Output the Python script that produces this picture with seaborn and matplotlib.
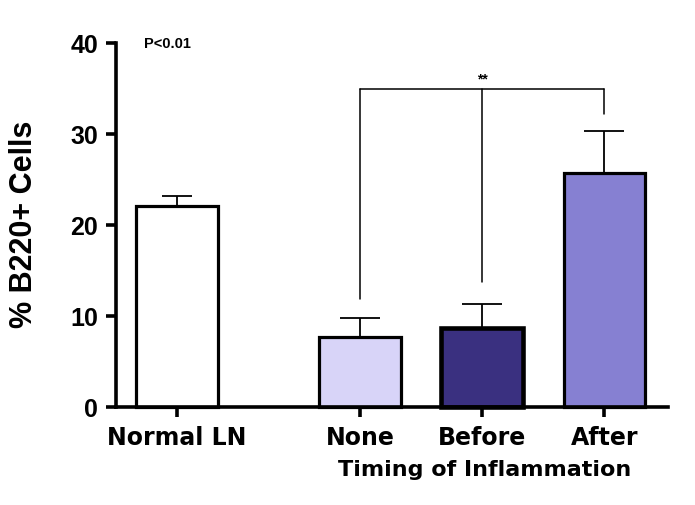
import matplotlib
matplotlib.use("Agg")
import matplotlib.pyplot as plt
import seaborn as sns
import pandas as pd

# ---- data ----
groups = ["Normal LN", "None", "Before", "After"]
positions = [0.0, 1.5, 2.5, 3.5]
means = [22.1, 7.7, 8.7, 25.7]
sems = [1.1, 2.1, 2.6, 4.6]
bar_colors = ["#ffffff", "#d8d4f8", "#3a3080", "#8680d2"]
yticks = [0, 10, 20, 30, 40]
bracket_top = 35.0
bracket_legs = [11.9, 13.7, 32.2]   # bottoms of legs above None, Before, After
sig_label = "**"
p_label = "P<0.01"

df = pd.DataFrame({"group": groups, "pos": positions, "mean": means})

sns.set_style("white")
plt.rcParams["font.family"] = ["Liberation Sans", "DejaVu Sans"]
plt.rcParams["text.color"] = "black"
plt.rcParams["axes.labelcolor"] = "black"
plt.rcParams["xtick.color"] = "black"
plt.rcParams["ytick.color"] = "black"

fig = plt.figure(figsize=(6.95, 5.06), dpi=100)
ax = fig.add_axes([116 / 695, 98 / 506, 552 / 695, 364 / 506])

sns.barplot(data=df, x="pos", y="mean", hue="group", native_scale=True,
            palette=dict(zip(groups, bar_colors)), dodge=False, width=0.67,
            saturation=1, edgecolor="black", linewidth=2.3, legend=False,
            errorbar=None, ax=ax)

for patch in ax.patches:
    patch.set_clip_on(False)
    if abs(patch.get_x() + patch.get_width() / 2 - positions[2]) < 0.1:
        patch.set_linewidth(3.3)

caps = [11, 14.5, 14.5, 14.5]
for p, m, s, c in zip(positions, means, sems, caps):
    ax.errorbar([p], [m], yerr=[[0], [s]], fmt="none", ecolor="black",
                elinewidth=1.3, capsize=c, capthick=1.3, zorder=1)

# significance bracket
leg_x = positions[1:]
ax.plot([leg_x[0], leg_x[-1]], [bracket_top, bracket_top], color="black", lw=1.1, clip_on=False)
for lx, lb in zip(leg_x, bracket_legs):
    ax.plot([lx, lx], [lb, bracket_top], color="black", lw=1.1, clip_on=False)
ax.text(leg_x[1], bracket_top + 0.3, sig_label, ha="center", va="bottom",
        fontsize=10, fontweight="bold")
ax.text(-0.08, 40, p_label, ha="center", va="center", fontsize=10.5, fontweight="bold")

ax.set_xlim(-0.5, 4.02)
ax.set_ylim(0, 40)
ax.set_yticks(yticks)
ax.set_yticklabels([str(t) for t in yticks], fontsize=18, fontweight="bold")
ax.set_xticks(positions)
ax.set_xticklabels(groups, fontsize=17, fontweight="bold", family="DejaVu Sans")

sns.despine(ax=ax)
for side in ["left", "bottom"]:
    ax.spines[side].set_linewidth(2.6)
    ax.spines[side].set_color("black")
ax.tick_params(axis="both", direction="out", length=7, width=2.6, color="black",
               left=True, bottom=True, pad=6)

ax.set_ylabel("% B220+ Cells", fontsize=22, fontweight="bold")
ax.yaxis.set_label_coords(-0.14, 0.505)
ax.set_xlabel("Timing of Inflammation", fontsize=16, fontweight="bold", family="DejaVu Sans")
ax.xaxis.set_label_coords(0.667, -0.142)

fig.savefig("out.png", dpi=100)
